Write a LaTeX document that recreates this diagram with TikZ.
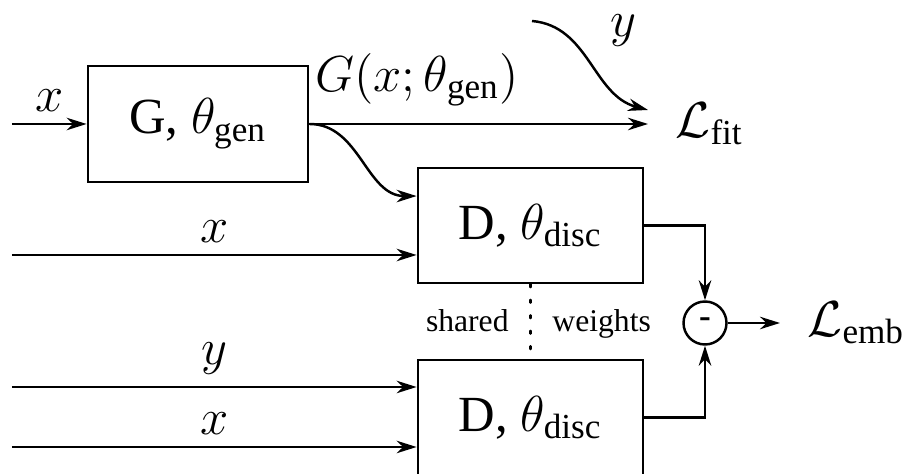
\documentclass[tikz,border=0pt]{standalone}
\usepackage{amsmath}
\usepackage{fontspec}
\setmainfont{Liberation Serif}
\usetikzlibrary{arrows.meta, positioning, calc}
\tikzset{
  every picture/.style={line width=0.7pt},
  box/.style={draw, line width=0.8pt, minimum width=2.2cm, minimum height=1.16cm, inner sep=0pt, font=\Large},
  dbox/.style={box, minimum width=2.25cm, minimum height=1.15cm},
  arrow/.style={-{Stealth[length=2mm, width=1.25mm]}},
  sig/.style={font=\Large},
  loss/.style={sig, anchor=west, inner xsep=7.5pt},
  note/.style={font=\small, text height=1.5ex, text depth=0.3ex},
}

\begin{document}
\begin{tikzpicture}
  \useasboundingbox (0,0) rectangle (9.04,4.74);
  % blocks
  \node[box] (g) at (1.98,3.50) {G, $\theta_{\text{gen}}$};
  \node[dbox] (d1) at (5.305,2.485) {D, $\theta_{\text{disc}}$};
  \node[dbox] (d2) at (5.305,0.565) {D, $\theta_{\text{disc}}$};
  \node[draw, circle, minimum size=0.43cm, inner sep=0pt] (diff) at (7.05,1.51) {\textbf{-}};
  \node[loss] (lfit) at (6.48,3.50) {$\mathcal{L}_{\text{fit}}$};
  \node[loss] (lemb) at (7.80,1.51) {$\mathcal{L}_{\text{emb}}$};
  % free ends
  \coordinate (xg) at (0.12,3.50);
  \coordinate (xd1) at (0.12,2.19);
  \coordinate (yd2) at (0.12,0.87);
  \coordinate (xd2) at (0.12,0.27);
  \coordinate (yfit) at (5.32,4.53);
  % generator
  \draw[arrow] (xg) -- node[sig, above] {$x$} (g.west);
  \draw[arrow] (g.east) -- (lfit.west);
  \node[sig] (gout) at (4.17,3.94) {$G(x;\theta_{\text{gen}})$};
  \draw[arrow] (yfit) to[out=-5, in=165] ([yshift=0.14cm]lfit.west);
  \node[sig] (ylab) at (6.23,4.43) {$y$};
  \draw[arrow] (g.east) to[out=0, in=180] ($(d1.north west)!0.25!(d1.south west)$);
  % discriminators
  \draw[arrow] (xd1) -- node[sig, above] {$x$} (xd1 -| d1.west);
  \draw[arrow] (yd2) -- node[sig, above] {$y$} (yd2 -| d2.west);
  \draw[arrow] (xd2) -- node[sig, above] {$x$} (xd2 -| d2.west);
  \draw[dash pattern=on 0.8pt off 3.6pt, line cap=round] (d1.south) -- coordinate (sw) (d2.north);
  \node[note, left=0.09cm of sw] (shared) {shared};
  \node[note, right=0.09cm of sw] (weights) {weights};
  \draw[arrow] (d1.east) -| (diff);
  \draw[arrow] (d2.east) -| (diff);
  \draw[arrow] (diff.east) -- (lemb.west);
\end{tikzpicture}
\end{document}
